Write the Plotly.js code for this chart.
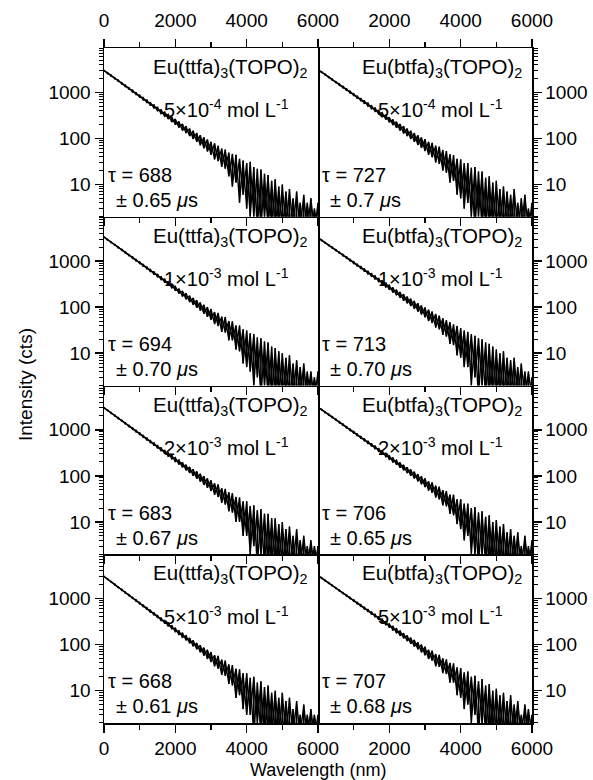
<!DOCTYPE html>
<html><head><meta charset="utf-8">
<script src="https://cdn.plot.ly/plotly-3.0.1.min.js"></script>
<style>html,body{margin:0;padding:0;background:#fff;}#chart{width:593px;height:780px;}</style>
</head><body><div id="chart"></div>
<script>
// time axis samples (labelled "Wavelength (nm)" in the original)
const TIME = [0,100,200,300,400,500,600,700,800,900,1000,1100,1200,1300,1400,1500,1600,1700,1800,1900,2000,2100,2200,2300,2400,2500,2600,2700,2800,2900,3000,3100,3200,3300,3400,3500,3600,3700,3800,3900,4000,4100,4200,4300,4400,4500,4600,4700,4800,4900,5000,5100,5200,5300,5400,5500,5600,5700,5800,5900,6000];

const compounds = ["Eu(ttfa)<sub>3</sub>(TOPO)<sub>2</sub>", "Eu(btfa)<sub>3</sub>(TOPO)<sub>2</sub>"];
const concentrations = ["5×10<sup>-4</sup> mol L<sup>-1</sup>", "1×10<sup>-3</sup> mol L<sup>-1</sup>", "2×10<sup>-3</sup> mol L<sup>-1</sup>", "5×10<sup>-3</sup> mol L<sup>-1</sup>"];
const tauTtfa = ["688", "694", "683", "668"];
const errTtfa = ["0.65", "0.70", "0.67", "0.61"];
const tauBtfa = ["727", "713", "706", "707"];
const errBtfa = ["0.7", "0.70", "0.65", "0.68"];
const xTickVals = [0, 2000, 4000, 6000];
const xTickTextLeft = ["0", "2000", "4000", "6000"];
const xTickTextRight = ["", "2000", "4000", "6000"];

// lower / upper envelope of the noisy decay in each panel (counts)
const lo_ttfa_5e4 = [2890,2530,2230,1950,1720,1500,1320,1160,1010,890,775,680,595,520,452,395,343,300,262,226,198,172,148,130,112,97,84,71,61,52,44,35,32,24,22,15,9,11,4,6,3,2,2,1,1,2,1,1,1,1,1,1,1,1,1,1,1,1,1,1,1];
const hi_ttfa_5e4 = [3040,2680,2370,2080,1840,1620,1430,1265,1115,985,870,770,682,602,535,474,420,372,332,295,262,233,206,183,163,146,131,117,106,95,84,78,69,60,57,49,46,44,36,33,29,31,24,22,21,17,16,12,13,9,10,7,8,5,7,4,6,4,5,3,4];
const lo_btfa_5e4 = [3030,2660,2350,2065,1820,1600,1410,1240,1090,960,842,740,650,570,500,438,382,336,293,256,223,195,170,148,128,112,97,84,72,62,53,44,39,30,28,20,18,11,12,6,5,3,4,2,1,2,1,1,1,1,1,1,1,1,1,1,1,1,1,1,1];
const hi_btfa_5e4 = [3180,2810,2490,2200,1945,1720,1525,1350,1195,1060,935,830,738,655,582,516,460,408,364,324,288,256,229,205,183,163,146,131,117,105,96,84,80,69,66,56,53,45,43,36,35,29,29,23,24,19,19,14,15,11,12,8,9,7,6,8,4,5,6,3,4];
const lo_ttfa_1e3 = [3220,2830,2480,2180,1915,1685,1480,1300,1140,1000,875,768,672,588,514,450,393,342,298,260,226,197,171,148,129,112,97,84,72,62,53,43,39,29,28,19,19,12,11,6,5,4,2,3,1,2,1,1,1,1,1,1,1,1,1,1,1,1,1,1,1];
const hi_ttfa_1e3 = [3390,2985,2630,2320,2040,1800,1585,1395,1232,1088,960,848,750,662,586,518,458,405,358,318,282,251,223,199,177,158,141,126,112,100,91,78,75,62,61,50,49,40,40,33,31,27,26,22,21,18,17,14,13,11,10,8,9,6,7,5,6,4,4,3,4];
const lo_btfa_1e3 = [3125,2755,2430,2140,1890,1665,1465,1292,1138,1002,880,775,682,600,525,462,405,355,312,272,238,208,182,159,138,121,106,92,80,69,60,50,45,36,33,25,23,16,15,9,8,5,5,2,3,1,2,1,1,1,1,1,1,1,1,1,1,1,1,1,1];
const hi_btfa_1e3 = [3280,2900,2565,2270,2008,1778,1575,1395,1235,1094,970,860,763,677,602,535,476,423,376,335,299,266,238,212,190,169,152,136,122,109,98,88,80,71,65,57,52,47,42,39,35,31,29,26,24,21,20,17,16,14,12,10,11,8,7,8,5,6,4,4,3];
const lo_ttfa_2e3 = [2930,2570,2255,1975,1732,1518,1330,1165,1020,893,782,684,598,523,457,400,349,305,266,232,202,176,153,133,116,100,87,75,64,55,47,39,35,26,24,17,16,10,10,5,5,2,3,1,2,1,1,1,1,1,1,1,1,1,1,1,1,1,1,1,1];
const hi_ttfa_2e3 = [3075,2705,2380,2092,1840,1620,1425,1255,1105,975,860,758,668,590,521,460,406,358,318,282,250,222,197,175,156,140,125,111,99,88,80,69,65,54,52,44,42,35,34,28,28,22,23,18,19,15,15,12,12,9,10,7,8,5,7,4,5,3,4,3,3];
const lo_btfa_2e3 = [3030,2668,2345,2063,1818,1600,1408,1240,1090,958,842,740,650,571,502,441,386,339,297,260,227,199,174,151,132,115,101,88,76,66,57,48,43,34,31,23,22,15,14,9,7,4,5,2,2,1,2,1,1,1,1,1,1,1,1,1,1,1,1,1,1];
const hi_btfa_2e3 = [3175,2805,2478,2190,1935,1708,1510,1334,1180,1043,922,816,722,638,566,501,445,393,350,311,276,246,219,195,173,154,138,123,109,98,88,76,72,61,58,49,47,39,39,31,31,25,25,20,21,16,17,13,14,10,11,8,9,6,7,5,6,3,5,3,4];
const lo_ttfa_5e3 = [2930,2562,2240,1957,1710,1494,1305,1140,995,870,758,662,578,503,439,383,333,290,252,219,190,165,143,124,107,92,79,68,58,49,42,34,30,22,21,14,13,7,8,4,3,3,1,2,1,1,1,1,1,1,1,1,1,1,1,1,1,1,1,1,1];
const hi_ttfa_5e3 = [3075,2695,2360,2068,1812,1588,1392,1222,1070,940,826,725,637,559,492,432,380,334,294,259,228,201,178,157,139,123,109,97,86,77,69,59,57,47,45,37,36,30,29,24,24,19,20,15,16,12,13,9,10,7,9,6,7,4,6,3,5,3,4,3,3];
const lo_btfa_5e3 = [3080,2712,2392,2108,1858,1637,1443,1271,1120,985,866,762,670,588,517,454,399,350,307,269,236,206,180,157,137,120,104,91,79,68,59,49,45,34,33,24,23,15,15,8,7,4,5,2,3,1,2,1,1,1,1,1,1,1,1,1,1,1,1,1,1];
const hi_btfa_5e3 = [3225,2850,2518,2225,1966,1738,1536,1358,1200,1062,940,832,737,652,580,514,456,404,359,318,283,251,224,199,177,158,141,126,112,100,90,77,74,62,60,50,48,40,39,32,31,25,26,20,21,16,18,13,14,10,11,8,9,6,8,5,6,3,5,4,3];

const panelLo = [lo_ttfa_5e4, lo_btfa_5e4, lo_ttfa_1e3, lo_btfa_1e3, lo_ttfa_2e3, lo_btfa_2e3, lo_ttfa_5e3, lo_btfa_5e3];
const panelHi = [hi_ttfa_5e4, hi_btfa_5e4, hi_ttfa_1e3, hi_btfa_1e3, hi_ttfa_2e3, hi_btfa_2e3, hi_ttfa_5e3, hi_btfa_5e3];

// ---- layout geometry (pixels) ----
const W = 593, H = 780;
const PL = 104, PR = 532, PT = 48, PB = 723;
const pw = (PR - PL), ph = (PB - PT);
const px2x = p => (p - PL) / pw;
const py2y = p => (PB - p) / ph;
const FONT = "Arial, 'Liberation Sans', Helvetica, sans-serif";
const TICKF = {family: FONT, size: 19, color: '#000'};
const ANNF = {family: FONT, size: 20, color: '#000'};

// minor tick positions on the log axes (2..9 of each decade)
const yMinor = [];
for (const d of [1, 10, 100, 1000]) for (let m = 2; m <= 9; m++) yMinor.push(m * d);

const traces = [];
const layout = {
  width: W, height: H,
  margin: {l: PL, r: W - PR, t: PT, b: H - PB, pad: 0},
  paper_bgcolor: '#fff', plot_bgcolor: '#fff',
  showlegend: false,
  font: {family: FONT, color: '#000'},
  annotations: []
};

for (let k = 0; k < 8; k++) {
  const r = Math.floor(k / 2), c = k % 2;
  const xa = k === 0 ? 'x' : 'x' + (k + 1);
  const ya = k === 0 ? 'y' : 'y' + (k + 1);
  // two interleaved zig-zags through the lower/upper envelope points
  const xA = [], yA = [], xB = [], yB = [];
  for (let i = 0; i < TIME.length; i++) {
    xA.push(TIME[i], TIME[i]); yA.push(panelLo[k][i], panelHi[k][i]);
    xB.push(TIME[i], TIME[i]); yB.push(panelHi[k][i], panelLo[k][i]);
  }
  traces.push({x: xA, y: yA, type: 'scatter', mode: 'lines', xaxis: xa, yaxis: ya,
    line: {color: '#000', width: 1.3}, hoverinfo: 'skip'});
  traces.push({x: xB, y: yB, type: 'scatter', mode: 'lines', xaxis: xa, yaxis: ya,
    line: {color: '#000', width: 1.3}, hoverinfo: 'skip'});

  const xKey = k === 0 ? 'xaxis' : 'xaxis' + (k + 1);
  const yKey = k === 0 ? 'yaxis' : 'yaxis' + (k + 1);
  const showX = (r === 0 || r === 3);
  layout[xKey] = {
    domain: [c * 0.5, c * 0.5 + 0.5], anchor: ya, range: [0, 6000],
    side: r === 0 ? 'top' : 'bottom',
    showline: true, linecolor: '#000', linewidth: 1.5,
    mirror: r === 0 ? 'ticks' : false,
    ticks: 'outside', ticklen: 8, tickwidth: 1.5, tickcolor: '#000',
    tickmode: 'array', tickvals: xTickVals, ticktext: c === 0 ? xTickTextLeft : xTickTextRight,
    showticklabels: showX, tickfont: TICKF,
    ticklabelstandoff: r === 0 ? 4 : 0,
    minor: {ticks: 'outside', ticklen: 5, tickwidth: 1.5, tickcolor: '#000', tickmode: 'array', tickvals: [1000, 3000, 5000], showgrid: false},
    showgrid: false, zeroline: false, fixedrange: true
  };
  layout[yKey] = {
    domain: [1 - (r + 1) * 0.25, 1 - r * 0.25], anchor: xa,
    type: 'log', range: [0.30, 3.96], side: c === 0 ? 'left' : 'right',
    showline: true, linecolor: '#000', linewidth: 1.5, mirror: c === 0,
    ticks: 'outside', ticklen: 8, tickwidth: 1.5, tickcolor: '#000',
    dtick: 1, exponentformat: 'none', tickfont: TICKF,
    minor: {ticks: 'outside', ticklen: 4, tickwidth: 1, tickcolor: '#000', tickmode: 'array', tickvals: yMinor, showgrid: false},
    showgrid: false, zeroline: false, fixedrange: true
  };

  const Lx = PL + c * 214, T = PT + r * ph / 4;
  const tau = c === 0 ? tauTtfa[r] : tauBtfa[r];
  const err = c === 0 ? errTtfa[r] : errBtfa[r];
  layout.annotations.push(
    {text: compounds[c], x: px2x(Lx + 206), y: py2y(T + 20), xref: 'paper', yref: 'paper', xanchor: 'right', yanchor: 'middle', showarrow: false, font: {family: FONT, size: 20.5, color: '#000'}},
    {text: concentrations[r], x: px2x(Lx + 122), y: py2y(T + 61), xref: 'paper', yref: 'paper', xanchor: 'center', yanchor: 'middle', showarrow: false, font: ANNF},
    {text: 'τ = ' + tau, x: px2x(Lx + 2), y: py2y(T + 127), xref: 'paper', yref: 'paper', xanchor: 'left', yanchor: 'middle', showarrow: false, font: ANNF},
    {text: '± ' + err + ' <i>μ</i>s', x: px2x(Lx + 10), y: py2y(T + 152), xref: 'paper', yref: 'paper', xanchor: 'left', yanchor: 'middle', showarrow: false, font: ANNF}
  );
}

layout.annotations.push(
  {text: 'Intensity (cts)', textangle: -90, x: px2x(25), y: py2y(385), xref: 'paper', yref: 'paper', xanchor: 'center', yanchor: 'middle', showarrow: false, font: {family: FONT, size: 19, color: '#000'}},
  {text: 'Wavelength (nm)', x: px2x(318), y: py2y(770), xref: 'paper', yref: 'paper', xanchor: 'center', yanchor: 'middle', showarrow: false, font: {family: FONT, size: 18, color: '#000'}}
);

Plotly.newPlot('chart', traces, layout, {staticPlot: true, displayModeBar: false});
</script></body></html>
